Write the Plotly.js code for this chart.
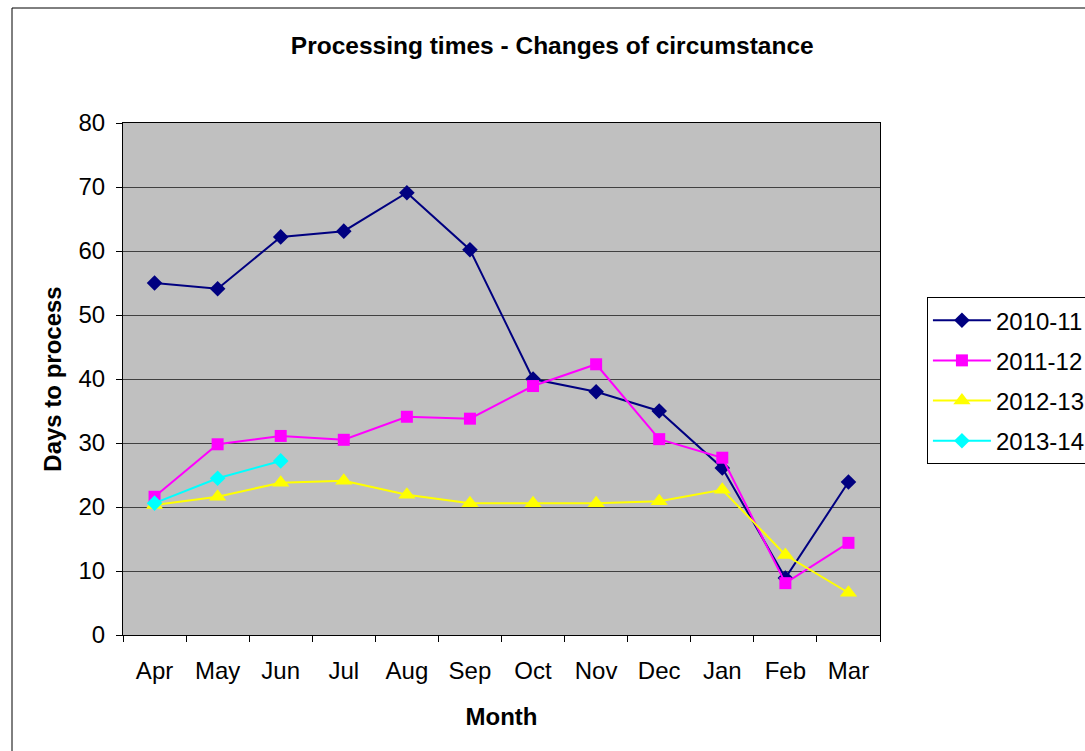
<!DOCTYPE html>
<html>
<head>
<meta charset="utf-8">
<script src="https://cdn.plot.ly/plotly-3.0.1.min.js"></script>
<style>
html,body{margin:0;padding:0;background:#fff;}
#chart{width:1085px;height:751px;}
</style>
</head>
<body>
<div id="chart"></div>
<script>
const months = ["Apr","May","Jun","Jul","Aug","Sep","Oct","Nov","Dec","Jan","Feb","Mar"];
const seriesNames = ["2010-11","2011-12","2012-13","2013-14"];
const y2010 = [55.0,54.1,62.2,63.1,69.1,60.2,40.0,38.0,35.0,26.1,8.9,23.9];
const y2011 = [21.6,29.8,31.1,30.5,34.1,33.8,38.9,42.3,30.6,27.7,8.1,14.4];
const y2012 = [20.3,21.6,23.8,24.1,21.9,20.6,20.6,20.6,20.9,22.7,12.5,6.6];
const y2013 = [20.6,24.5,27.2];

const colors = ["#000080","#FF00FF","#FFFF00","#00FFFF"];
const symbols = ["diamond","square","triangle-up","diamond"];
const sizes = [12,12,15,12];
const data = [y2010,y2011,y2012,y2013].map((ys,i)=>({
  type:"scatter",
  mode:"lines+markers",
  name:seriesNames[i],
  legendgroup:"g"+i,
  x:months.slice(0,ys.length),
  y:ys,
  line:{color:colors[i],width:2},
  marker:{color:colors[i],symbol:symbols[i],size:sizes[i]}
}));

const font = {family:"Liberation Sans, Arial, sans-serif",color:"#000"};
const f = s => Object.assign({size:s},font);
const layout = {
  width:1085,height:751,
  margin:{l:123,r:205,t:123,b:116,autoexpand:false},
  paper_bgcolor:"#fff",
  plot_bgcolor:"#C0C0C0",
  font:f(24),
  showlegend:true,
  title:{text:"<b>Processing times - Changes of circumstance</b>",
    font:f(24.5),
    xref:"paper",x:0.567,xanchor:"center",
    yref:"container",y:0.94,yanchor:"middle"},
  xaxis:{
    type:"category",
    categoryarray:months,
    range:[-0.5,11.5],
    showgrid:false,
    zeroline:false,
    showline:true,linecolor:"#000",linewidth:1,mirror:true,
    ticks:"outside",tickson:"boundaries",ticklen:6,tickcolor:"#000",
    ticklabelstandoff:14,
    tickfont:f(24),
    title:{text:"<b>Month</b>",font:f(24),standoff:25}
  },
  yaxis:{
    range:[0,80],
    dtick:10,
    showgrid:true,gridcolor:"#404040",gridwidth:1,
    zeroline:false,
    showline:true,linecolor:"#000",linewidth:1,mirror:true,
    ticks:"outside",ticklen:6,tickcolor:"#000",
    ticklabelstandoff:6,
    tickfont:f(24),
    title:{text:"<b>Days to process</b>",font:f(24),standoff:10}
  },
  legend:{
    x:1.062,xanchor:"left",y:0.66,yanchor:"top",
    bordercolor:"#000",borderwidth:1,bgcolor:"#fff",
    font:f(24),
    tracegroupgap:6,
    itemwidth:58
  },
  shapes:[{
    type:"rect",xref:"paper",yref:"paper",
    x0:(12-123)/757,x1:1.5,y0:-0.5,y1:(635-8)/512,
    line:{color:"#000",width:1},fillcolor:"rgba(0,0,0,0)",layer:"below"
  }]
};
Plotly.newPlot("chart",data,layout,{displayModeBar:false,staticPlot:true});
</script>
</body>
</html>
